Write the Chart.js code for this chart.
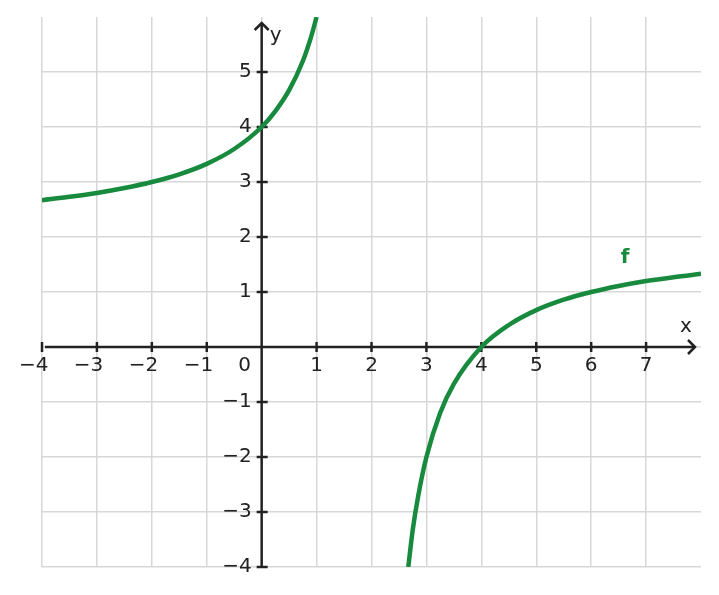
<!DOCTYPE html>
<html>
<head>
<meta charset="utf-8">
<script src="https://cdn.jsdelivr.net/npm/chart.js@4"></script>
<style>
html,body{margin:0;padding:0;background:#fff;}
#wrap{width:719px;height:595px;position:relative;}
</style>
</head>
<body>
<div id="wrap"><canvas id="c" width="719" height="595"></canvas></div>
<script>
// Data
const leftX  = [-4, -3.5, -3, -2.5, -2, -1.5, -1, -0.5, 0, 0.25, 0.5, 0.75, 0.9, 1];
const leftY  = [2.67, 2.73, 2.8, 2.89, 3, 3.14, 3.33, 3.6, 4, 4.29, 4.67, 5.2, 5.64, 6];
const rightX = [2.67, 2.75, 2.85, 3, 3.25, 3.5, 4, 4.5, 5, 5.5, 6, 6.5, 7, 7.5, 8];
const rightY = [-4, -3.33, -2.71, -2, -1.2, -0.67, 0, 0.4, 0.67, 0.86, 1, 1.11, 1.2, 1.27, 1.33];
const xTickLabels = ['−4', '−3', '−2', '−1', '1', '2', '3', '4', '5', '6', '7'];
const xTickValues = [-4, -3, -2, -1, 1, 2, 3, 4, 5, 6, 7];
const yTickLabels = ['−4', '−3', '−2', '−1', '1', '2', '3', '4', '5'];
const yTickValues = [-4, -3, -2, -1, 1, 2, 3, 4, 5];
const seriesName = 'f';

const GREEN = '#178a3e';
const INK = '#222222';
const FONT = '20px "DejaVu Sans", sans-serif';

const toPts = (xs, ys) => xs.map((x, i) => ({x: x, y: ys[i]}));

const axesPlugin = {
  id: 'axes',
  beforeDatasetsDraw(chart) {
    const ctx = chart.ctx;
    const xs = chart.scales.x, ys = chart.scales.y;
    const x0 = xs.getPixelForValue(0), y0 = ys.getPixelForValue(0);
    const left = xs.getPixelForValue(-4), right = xs.getPixelForValue(8);
    const top = ys.getPixelForValue(6), bottom = ys.getPixelForValue(-4);
    ctx.save();
    ctx.strokeStyle = INK;
    ctx.lineWidth = 2.5;
    ctx.lineCap = 'butt';
    // x axis
    ctx.beginPath();
    ctx.moveTo(left + 3, y0);
    ctx.lineTo(right - 6, y0);
    ctx.stroke();
    ctx.beginPath();
    ctx.moveTo(right - 13, y0 - 7);
    ctx.lineTo(right - 6, y0);
    ctx.lineTo(right - 13, y0 + 7);
    ctx.stroke();
    // y axis
    ctx.beginPath();
    ctx.moveTo(x0, bottom - 1);
    ctx.lineTo(x0, top + 6);
    ctx.stroke();
    ctx.beginPath();
    ctx.moveTo(x0 - 7, top + 13);
    ctx.lineTo(x0, top + 6);
    ctx.lineTo(x0 + 7, top + 13);
    ctx.stroke();
    // ticks
    xTickValues.forEach(v => {
      const px = xs.getPixelForValue(v);
      ctx.beginPath();
      ctx.moveTo(px, y0 - 5);
      ctx.lineTo(px, y0 + 5);
      ctx.stroke();
    });
    yTickValues.forEach(v => {
      const py = ys.getPixelForValue(v);
      ctx.beginPath();
      ctx.moveTo(x0 - 5, py);
      ctx.lineTo(x0 + 6, py);
      ctx.stroke();
    });
    // labels
    ctx.fillStyle = INK;
    ctx.font = FONT;
    ctx.textBaseline = 'middle';
    ctx.textAlign = 'right';
    xTickValues.forEach((v, i) => {
      const lbl = xTickLabels[i];
      const digits = lbl.replace('−', '');
      const dw = ctx.measureText(digits).width;
      ctx.fillText(lbl, xs.getPixelForValue(v) + dw / 2, y0 + 19);
    });
    ctx.textAlign = 'center';
    ctx.fillText('0', x0 - 17, y0 + 19);
    ctx.textAlign = 'right';
    yTickValues.forEach((v, i) => {
      ctx.fillText(yTickLabels[i], x0 - 10, ys.getPixelForValue(v));
    });
    ctx.textAlign = 'center';
    ctx.fillText('x', right - 15, y0 - 20);
    ctx.fillText('y', x0 + 14, top + 19);
    ctx.restore();
  },
  afterDatasetsDraw(chart) {
    const ctx = chart.ctx;
    const xs = chart.scales.x, ys = chart.scales.y;
    ctx.save();
    ctx.fillStyle = GREEN;
    ctx.font = 'bold 20px "DejaVu Sans", sans-serif';
    ctx.textAlign = 'center';
    ctx.textBaseline = 'middle';
    ctx.fillText(seriesName, xs.getPixelForValue(6.62), ys.getPixelForValue(1.62));
    ctx.restore();
  }
};

const gridColor = (max) => (c) => (c.tick && c.tick.value === max) ? 'rgba(0,0,0,0)' : '#d7d7d7';

new Chart(document.getElementById('c'), {
  type: 'line',
  data: {
    datasets: [
      {data: toPts(leftX, leftY), borderColor: GREEN, borderWidth: 4.5, pointRadius: 0, cubicInterpolationMode: 'monotone', fill: false},
      {data: toPts(rightX, rightY), borderColor: GREEN, borderWidth: 4.5, pointRadius: 0, cubicInterpolationMode: 'monotone', fill: false}
    ]
  },
  options: {
    responsive: false,
    animation: false,
    events: [],
    layout: {padding: {left: 42, right: 18, top: 17, bottom: 28}},
    plugins: {legend: {display: false}, tooltip: {enabled: false}},
    scales: {
      x: {
        type: 'linear', min: -4, max: 8,
        ticks: {display: false, stepSize: 1},
        border: {display: false},
        grid: {drawTicks: false, color: gridColor(8), lineWidth: 1.5},
        afterFit: (s) => { s.height = 0; }
      },
      y: {
        type: 'linear', min: -4, max: 6,
        ticks: {display: false, stepSize: 1},
        border: {display: false},
        grid: {drawTicks: false, color: gridColor(6), lineWidth: 1.5},
        afterFit: (s) => { s.width = 0; }
      }
    }
  },
  plugins: [axesPlugin]
});
</script>
</body>
</html>
